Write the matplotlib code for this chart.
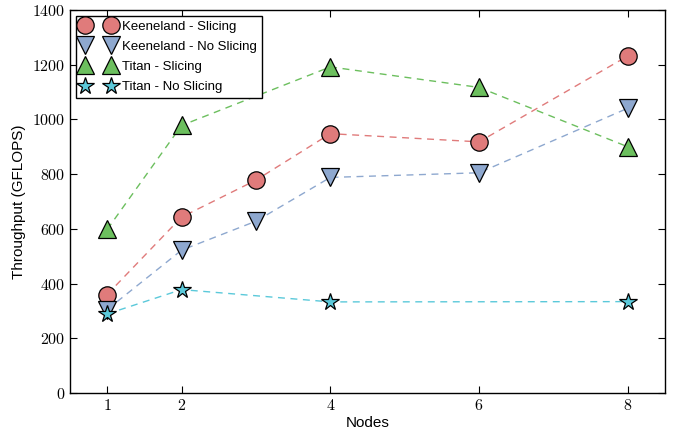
import matplotlib
matplotlib.use("Agg")
import matplotlib.pyplot as plt
from matplotlib.ticker import FuncFormatter

plt.rcParams['mathtext.fontset'] = 'cm'
plt.rcParams['font.family'] = ['Liberation Sans', 'DejaVu Sans']

ks_x = [1, 2, 3, 4, 6, 8]
ks_y = [360, 643, 778, 948, 918, 1232]
kn_x = [1, 2, 3, 4, 6, 8]
kn_y = [305, 522, 628, 788, 805, 1041]
ts_x = [1, 2, 4, 6, 8]
ts_y = [598, 978, 1192, 1117, 900]
tn_x = [1, 2, 4, 8]
tn_y = [289, 378, 333, 334]

labels = ['Keeneland - Slicing', 'Keeneland - No Slicing', 'Titan - Slicing', 'Titan - No Slicing']
colors = ['#E07B7B', '#8EA8CF', '#6CBF5E', '#5BC9DA']
markers = ['o', 'v', '^', '*']
sizes = [12.5, 13, 13, 13]

fig = plt.figure(figsize=(6.8, 4.36), dpi=100)
ax = fig.add_axes([70/680, 1-393/436, 595/680, 383/436])

series = [(ks_x, ks_y), (kn_x, kn_y), (ts_x, ts_y), (tn_x, tn_y)]
for (xs, ys), lab, c, m, s in zip(series, labels, colors, markers, sizes):
    ax.plot(xs, ys, linestyle='--', color=c, lw=1.0, dashes=(5, 4), alpha=1,
            marker=m, markersize=s, markerfacecolor=c, markeredgecolor='black',
            markeredgewidth=0.9, label=lab)

ax.set_xlim(0.5, 8.5)
ax.set_ylim(0, 1400)
ax.set_xticks([1, 2, 4, 6, 8])
ax.set_yticks(range(0, 1401, 200))
fmt = FuncFormatter(lambda v, p: r'$%d$' % v)
ax.xaxis.set_major_formatter(fmt)
ax.yaxis.set_major_formatter(fmt)
ax.tick_params(direction='in', length=5, width=0.8, top=True, right=True, labelsize=11.5)
for sp in ax.spines.values():
    sp.set_linewidth(1.0)
ax.set_xlabel('Nodes', fontsize=11, labelpad=2)
ax.set_ylabel('Throughput (GFLOPS)', fontsize=11, labelpad=4)

leg = ax.legend(loc='upper left', numpoints=2, fontsize=9.5, fancybox=False,
                framealpha=1, edgecolor='black', handlelength=2.6,
                handletextpad=0.55, borderpad=0.35, labelspacing=0.6,
                borderaxespad=0.45)
leg.get_frame().set_linewidth(1.0)
for h in leg.get_lines():
    h.set_linestyle('None')

fig.savefig('out.png', dpi=100)
